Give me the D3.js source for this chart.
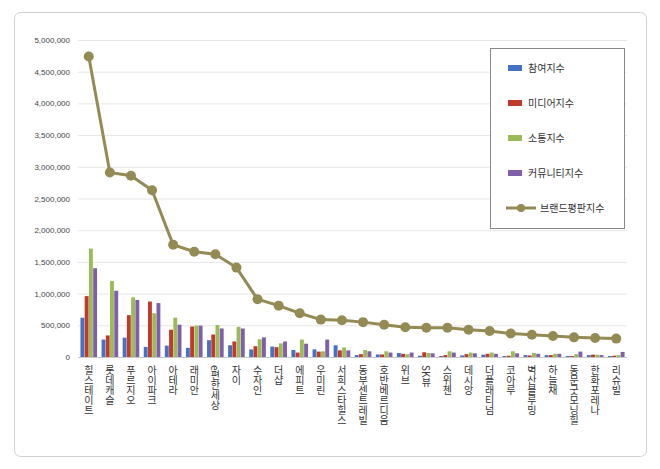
<!DOCTYPE html><html><head><meta charset="utf-8"><script src="https://cdn.jsdelivr.net/npm/d3@7"></script>
<style>body{margin:0;background:#fff;font-family:"Noto Sans CJK KR",sans-serif}</style></head><body><svg id="c" width="660" height="469"></svg><script>
const categories=["힐스테이트","롯데캐슬","푸르지오","아이파크","아테라","래미안","e편한세상","자이","수자인","더샵","에피트","우미린","서희스타힐스","동부센트레빌","호반베르디움","위브","SK뷰","스위첸","데시앙","더플래티넘","코아루","벽산블루밍","하늘채","동문굿모닝힐","한화포레나","리슈빌"];
const participation=[620000,275000,305000,160000,180000,145000,265000,185000,120000,165000,110000,120000,185000,30000,40000,63000,20000,15000,25000,37000,15000,30000,30000,15000,30000,15000];
const media=[960000,340000,660000,875000,430000,480000,355000,245000,170000,155000,70000,85000,105000,45000,40000,50000,75000,30000,45000,50000,20000,25000,30000,15000,37000,20000];
const communication=[1710000,1200000,940000,690000,620000,495000,505000,475000,280000,215000,275000,90000,150000,110000,90000,45000,63000,90000,70000,70000,90000,63000,50000,45000,37000,30000];
const community=[1400000,1045000,900000,850000,510000,495000,450000,450000,310000,245000,210000,275000,105000,90000,70000,70000,58000,70000,58000,50000,58000,50000,50000,85000,30000,80000];
const brand=[4740000,2910000,2860000,2630000,1770000,1660000,1620000,1410000,910000,810000,690000,590000,580000,550000,510000,470000,460000,460000,430000,410000,370000,350000,330000,310000,300000,290000];
const seriesNames=["참여지수","미디어지수","소통지수","커뮤니티지수","브랜드평판지수"];
const colors=["#4472C4","#C0392B","#9BBB59","#7F5FA8","#948A54"];
const yTicks=[0,500000,1000000,1500000,2000000,2500000,3000000,3500000,4000000,4500000,5000000];
const svg=d3.select("#c");
svg.append("rect").attr("x",14.5).attr("y",12.5).attr("width",632).attr("height",444).attr("rx",6).attr("fill","#fff").attr("stroke","#d0d0d0");
const y=d3.scaleLinear().domain([0,5000000]).range([357,40]);
const x=d3.scaleBand().domain(categories).range([78,627]).paddingInner(0.18).paddingOuter(0.1);
const g=svg.append("g");
g.selectAll("line.grid").data(yTicks).join("line").attr("x1",78).attr("x2",627).attr("y1",d=>y(d)+.5).attr("y2",d=>y(d)+.5).attr("stroke",d=>d===0?"#c8c8c8":"#e6e6e6");
g.selectAll("text.yt").data(yTicks).join("text").attr("x",70).attr("y",d=>y(d)+3).attr("text-anchor","end").attr("font-size",8).attr("fill","#444").attr("font-family","Liberation Sans, sans-serif").text(d3.format(","));
const xs=d3.scaleBand().domain([0,1,2,3]).range([0,x.bandwidth()]).padding(0.08);
[participation,media,communication,community].forEach((arr,i)=>{
 g.selectAll(null).data(arr).join("rect").attr("x",(d,j)=>x(categories[j])+xs(i)).attr("width",xs.bandwidth()).attr("y",d=>y(d)).attr("height",d=>357-y(d)).attr("fill",colors[i]);
});
const cx=j=>x(categories[j])+x.bandwidth()/2;
g.append("path").datum(brand).attr("fill","none").attr("stroke",colors[4]).attr("stroke-width",3).attr("d",d3.line().x((d,j)=>cx(j)).y(d=>y(d)));
g.selectAll(null).data(brand).join("circle").attr("cx",(d,j)=>cx(j)).attr("cy",d=>y(d)).attr("r",5).attr("fill",colors[4]);
g.selectAll(null).data(categories).join("text").attr("x",(d,j)=>cx(j)).attr("y",365).attr("font-size",10).attr("fill","#333")
 .style("writing-mode","vertical-rl").style("text-orientation","mixed").text(d=>d);
const lg=svg.append("g");
lg.append("rect").attr("x",490.5).attr("y",48.5).attr("width",134).attr("height",180).attr("fill","#fff").attr("stroke","#888");
seriesNames.forEach((n,i)=>{
 const yy=68+i*35;
 if(i<4) lg.append("rect").attr("x",508).attr("y",yy-3).attr("width",14).attr("height",6).attr("fill",colors[i]);
 else {lg.append("line").attr("x1",506).attr("x2",536).attr("y1",yy).attr("y2",yy).attr("stroke",colors[4]).attr("stroke-width",3);
  lg.append("circle").attr("cx",521).attr("cy",yy).attr("r",4).attr("fill",colors[4]);}
 lg.append("text").attr("x",i<4?528:540).attr("y",yy+4).attr("font-size",10).attr("fill","#333").text(n);
});
</script></body></html>
